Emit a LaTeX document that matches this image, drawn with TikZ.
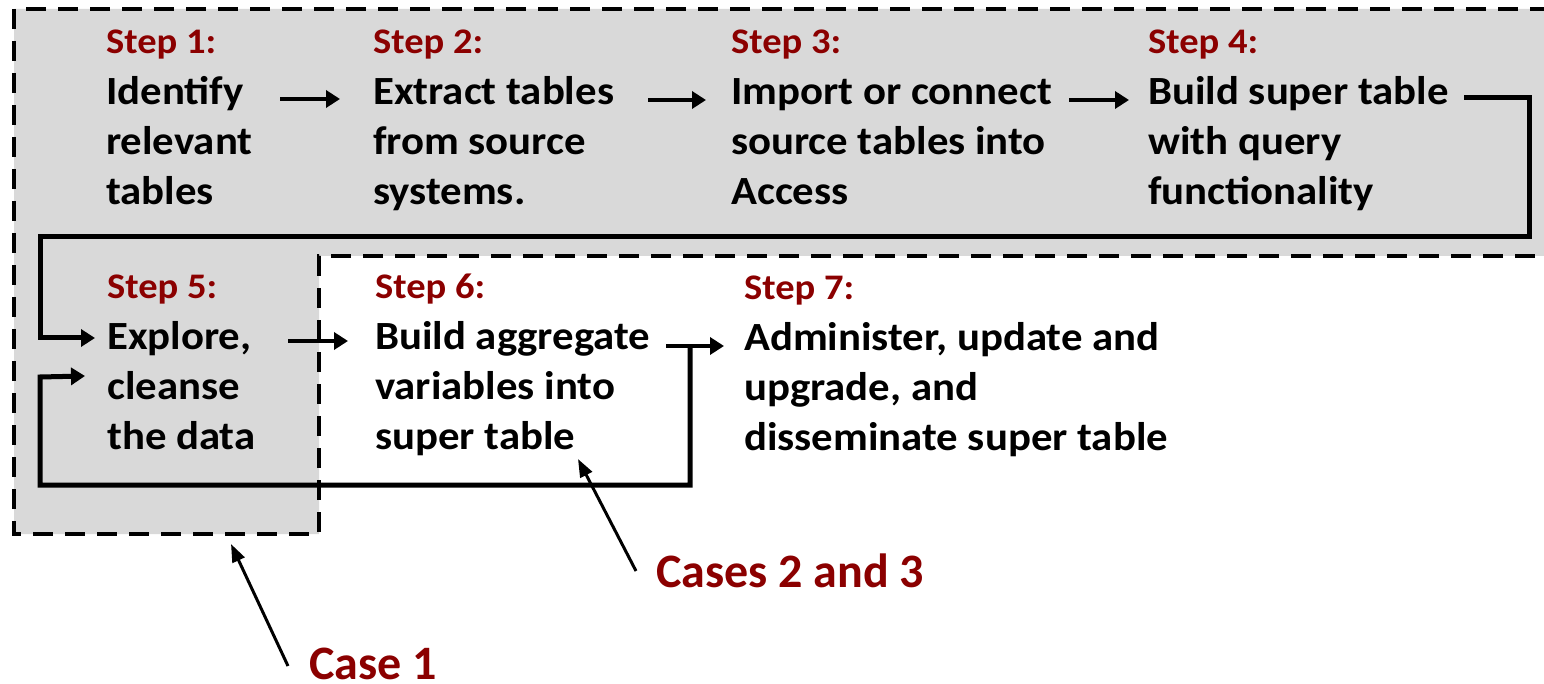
\documentclass[tikz,border=0pt]{standalone}
\usepackage{fontspec}
\setmainfont{Carlito}[FakeStretch=1.07]
\newfontfamily\casefont{Carlito}
\usetikzlibrary{arrows.meta}
\definecolor{dred}{RGB}{139,0,0}
\definecolor{panel}{RGB}{217,217,217}
\newcommand\fls{\rule{0pt}{40pt}}
\begin{document}
\begin{tikzpicture}[x=1pt,y=-1pt,
  steplab/.style={anchor=base west,inner sep=0pt,text=dred,font=\bfseries\fontsize{36pt}{50pt}\selectfont},
  stepbody/.style={anchor=north west,inner sep=0pt,align=left,font=\bfseries\fontsize{40pt}{50pt}\selectfont},
  flow/.style={line width=4.5pt,-{Triangle[length=14pt,width=17pt]}},
  loopline/.style={line width=5pt,line join=miter},
  casearr/.style={line width=3pt,-{Triangle[length=18pt,width=13pt]}},
  caselab/.style={anchor=base west,inner sep=0pt,text=dred,font=\casefont\bfseries\fontsize{48pt}{56pt}\selectfont},
  frame/.style={line width=4pt,dash pattern=on 20pt off 12pt}]
\useasboundingbox (0,0) rectangle (1544,684);
\fill[white] (0,0) rectangle (1544,684);
% Case 1 region
\fill[panel] (14,9) -- (1550,9) -- (1550,256) -- (319,256) -- (319,534) -- (14,534) -- cycle;
\draw[frame] (1550,9) -- (14,9) -- (14,534) -- (319,534) -- (319,256) -- (1550,256);
% steps
\node[steplab] (s1lab) at (106,54) {Step 1:};
\node[stepbody] (s1) at (106,64) {\fls Identify\\relevant\\tables};
\node[steplab] (s2lab) at (373,54) {Step 2:};
\node[stepbody] (s2) at (373,64) {\fls Extract tables\\from source\\systems.};
\node[steplab] (s3lab) at (731,54) {Step 3:};
\node[stepbody] (s3) at (731,64) {\fls Import or connect\\source tables into\\Access};
\node[steplab] (s4lab) at (1148,54) {Step 4:};
\node[stepbody] (s4) at (1148,64) {\fls Build super table\\with query\\functionality};
\node[steplab] (s5lab) at (107,299) {Step 5:};
\node[stepbody] (s5) at (107,309) {\fls Explore,\\cleanse\\the data};
\node[steplab] (s6lab) at (375,299) {Step 6:};
\node[stepbody] (s6) at (375,309) {\fls Build aggregate\\variables into\\super table};
\node[steplab] (s7lab) at (744,300) {Step 7:};
\node[stepbody] (s7) at (744,310) {\fls Administer, update and\\upgrade, and\\disseminate super table};
% connector end points
\coordinate (a12s) at (280,99);  \coordinate (a12e) at (340,99);
\coordinate (a23s) at (648,100); \coordinate (a23e) at (706,100);
\coordinate (a34s) at (1069,100); \coordinate (a34e) at (1129,100);
\coordinate (l1s) at (1464,98); \coordinate (l1e) at (95,338);
\coordinate (a56s) at (288,341); \coordinate (a56e) at (348,341);
\coordinate (a67s) at (666,346); \coordinate (a67e) at (724,346);
\coordinate (l2s) at (690,346); \coordinate (l2e) at (85,376);
\draw[flow] (a12s) -- (a12e);
\draw[flow] (a23s) -- (a23e);
\draw[flow] (a34s) -- (a34e);
\draw[flow] (a56s) -- (a56e);
\draw[flow] (a67s) -- (a67e);
\draw[loopline,-{Triangle[length=14pt,width=17pt]}] (l1s) -- (1529,98) -- (1529,237) -- (40,237) -- (40,338) -- (l1e);
\draw[loopline,-{Triangle[length=14pt,width=17pt]}] (l2s) -- (690,485) -- (40,485) -- (40,377) -- (l2e);
% case labels
\node[caselab] (case23) at (656,587) {Cases 2 and 3};
\node[caselab] (case1) at (309,679) {Case 1};
\coordinate (c23t) at (636,571); \coordinate (c23h) at (578,459);
\coordinate (c1t) at (288,666); \coordinate (c1h) at (231,544);
\draw[casearr] (c23t) -- (c23h);
\draw[casearr] (c1t) -- (c1h);
\end{tikzpicture}
\end{document}
